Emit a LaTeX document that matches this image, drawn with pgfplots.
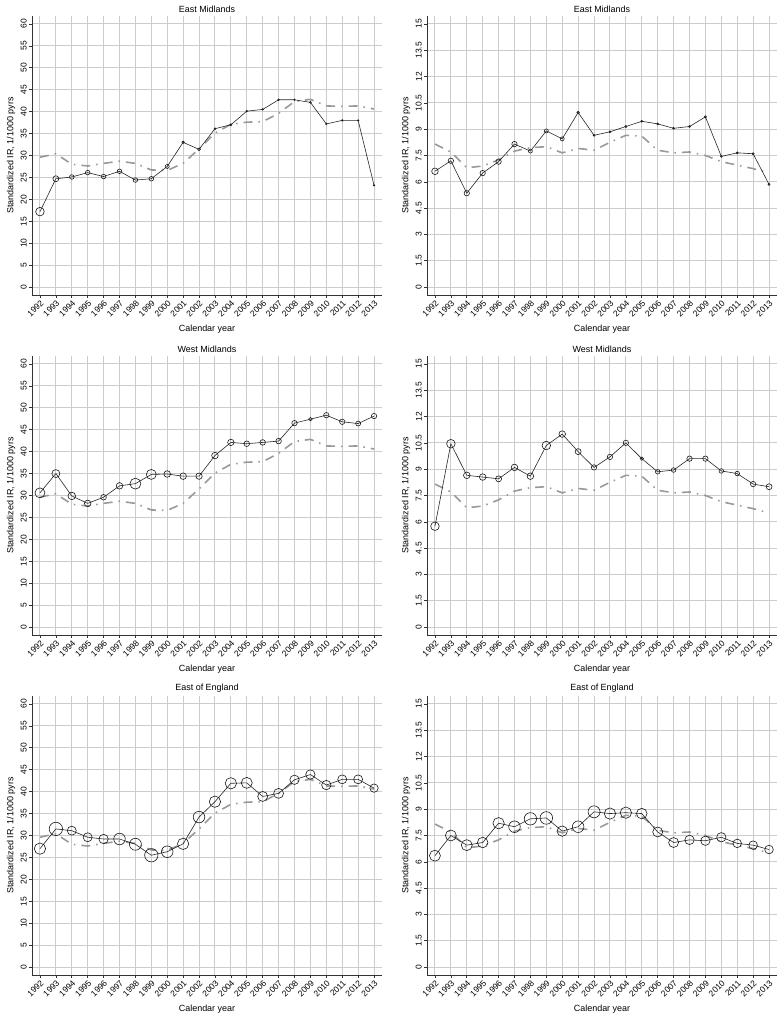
\documentclass[border=0pt]{standalone}
\usepackage{fontspec}
\setmainfont{Liberation Sans}
\usepackage{pgfplots}
\usepackage{pgfplotstable}
\pgfplotsset{compat=1.18}

\pgfplotstableread{
year val
1992 29.6
1993 30.4
1994 28.0
1995 27.6
1996 28.2
1997 28.7
1998 28.2
1999 26.7
2000 26.6
2001 28.2
2002 31.5
2003 35.1
2004 37.1
2005 37.6
2006 37.7
2007 39.6
2008 42.3
2009 42.8
2010 41.3
2011 41.2
2012 41.3
2013 40.6
}\refL

\pgfplotstableread{
year val
1992 8.15
1993 7.7
1994 6.8
1995 6.9
1996 7.25
1997 7.75
1998 7.95
1999 8.0
2000 7.65
2001 7.9
2002 7.8
2003 8.25
2004 8.65
2005 8.6
2006 7.8
2007 7.65
2008 7.7
2009 7.5
2010 7.15
2011 6.95
2012 6.75
2013 6.5
}\refR

\pgfplotstableread{
year val r
1992 17.2 4.3
1993 24.7 3.0
1994 25.1 2.3
1995 26.1 2.3
1996 25.2 2.3
1997 26.4 2.3
1998 24.4 2.3
1999 24.7 2.3
2000 27.5 2.0
2001 33.0 1.3
2002 31.4 1.4
2003 36.1 1.0
2004 37.0 1.0
2005 40.1 0.8
2006 40.5 0.8
2007 42.7 0.8
2008 42.7 0.8
2009 42.1 1.0
2010 37.2 0.8
2011 38.0 0.8
2012 38.0 0.8
2013 23.2 0.8
}\EMl

\pgfplotstableread{
year val r
1992 6.6 3.3
1993 7.2 2.7
1994 5.35 2.7
1995 6.5 2.7
1996 7.15 2.7
1997 8.15 2.7
1998 7.75 2.0
1999 8.9 2.0
2000 8.45 2.0
2001 9.95 1.3
2002 8.65 1.0
2003 8.85 1.0
2004 9.15 1.0
2005 9.45 1.0
2006 9.3 1.0
2007 9.05 1.0
2008 9.15 1.0
2009 9.7 1.2
2010 7.45 1.0
2011 7.65 1.0
2012 7.6 1.0
2013 5.85 1.0
}\EMr

\pgfplotstableread{
year val r
1992 30.6 5.0
1993 35.0 4.0
1994 29.9 3.8
1995 28.2 3.3
1996 29.6 2.8
1997 32.2 3.3
1998 32.7 5.5
1999 34.8 5.0
2000 34.9 3.3
2001 34.4 3.3
2002 34.4 3.2
2003 39.1 3.3
2004 42.1 3.2
2005 41.8 2.8
2006 42.1 2.8
2007 42.4 2.8
2008 46.5 2.7
2009 47.4 1.8
2010 48.3 2.7
2011 46.8 2.7
2012 46.4 2.5
2013 48.1 2.7
}\WMl

\pgfplotstableread{
year val r
1992 5.75 4.3
1993 10.45 4.3
1994 8.65 3.3
1995 8.55 3.3
1996 8.45 3.0
1997 9.1 3.3
1998 8.6 3.3
1999 10.35 4.3
2000 11.0 3.3
2001 10.0 3.0
2002 9.1 2.7
2003 9.7 2.7
2004 10.5 2.7
2005 9.6 1.7
2006 8.85 2.3
2007 8.95 2.3
2008 9.6 2.7
2009 9.6 2.7
2010 8.9 2.3
2011 8.75 2.3
2012 8.15 2.7
2013 8.0 3.0
}\WMr

\pgfplotstableread{
year val r
1992 27.0 5.7
1993 31.5 6.7
1994 31.1 4.5
1995 29.6 4.5
1996 29.2 4.7
1997 29.2 5.8
1998 28.0 6.0
1999 25.5 6.7
2000 26.3 5.8
2001 28.1 5.7
2002 34.2 5.8
2003 37.7 5.7
2004 41.9 5.7
2005 42.0 5.5
2006 38.9 5.0
2007 39.6 5.0
2008 42.7 4.7
2009 43.9 4.7
2010 41.5 4.7
2011 42.8 4.5
2012 42.8 4.5
2013 40.8 4.2
}\EEl

\pgfplotstableread{
year val r
1992 6.35 5.5
1993 7.5 5.5
1994 6.95 5.5
1995 7.1 5.3
1996 8.2 5.7
1997 8.0 5.8
1998 8.45 6.2
1999 8.5 6.3
2000 7.75 5.2
2001 8.0 5.8
2002 8.85 6.0
2003 8.75 5.7
2004 8.8 5.7
2005 8.75 5.3
2006 7.7 5.0
2007 7.1 5.0
2008 7.25 4.7
2009 7.2 4.7
2010 7.4 4.7
2011 7.05 4.3
2012 6.95 4.3
2013 6.7 4.3
}\EEr

\pgfplotsset{
  panel/.style={
    scale only axis, width=350bp, height=279bp,
    xmin=1991.5, xmax=2013.5,
    axis x line*=bottom, axis y line*=left,
    xtick={1992,1993,...,2013},
    grid=major,
    major grid style={line width=1bp, color=black!20},
    tick style={color=black!80, line width=0.6bp},
    tick align=outside, major tick length=3bp,
    axis line style={black!80, line width=0.6bp, -},
    /pgf/number format/assume math mode=true,
    /pgf/number format/1000 sep={},
    xticklabel style={rotate=45, anchor=north east, font=\fontsize{8.5}{9}\selectfont, inner sep=1bp},
    yticklabel style={rotate=90, anchor=south, font=\fontsize{8.5}{9}\selectfont, inner sep=2bp},
    title style={font=\fontsize{9}{10}\selectfont, yshift=-6bp},
    label style={font=\fontsize{9}{10}\selectfont},
    xlabel={Calendar year},
    ylabel={Standardized IR, 1/1000 pyrs},
    xlabel style={yshift=-3bp},
    ylabel style={yshift=0bp},
  },
  lpanel/.style={panel, ymin=-1.8, ymax=61.8, ytick={0,5,...,60}},
  rpanel/.style={panel, ymin=-0.45, ymax=15.45, ytick={0,1.5,3,4.5,6,7.5,9,10.5,12,13.5,15}},
  refline/.style={color=black!40, line width=1.6bp, dash pattern=on 9bp off 6bp on 1.5bp off 6bp, no marks},
  mainline/.style={color=black!85, line width=0.6bp, no marks},
  circ/.style={only marks, mark=o, scatter, point meta=0,
    scatter/use mapped color={draw=black!90, fill=none},
    mark options={line width=0.6bp},
    visualization depends on={\thisrow{r} \as \rr},
    scatter/@pre marker code/.append style={/tikz/mark size=\rr}},
}

\begin{document}
\begin{tikzpicture}
\path[use as bounding box] (0,0) rectangle (782bp,1020bp);

% Row 1
\begin{axis}[lpanel, at={(32bp,725bp)}, anchor=south west, title={East Midlands}]
\addplot[refline] table[x=year,y=val]{\refL};
\addplot[mainline] table[x=year,y=val]{\EMl};
\addplot[circ] table[x=year,y=val]{\EMl};
\end{axis}
\begin{axis}[rpanel, at={(427bp,725bp)}, anchor=south west, title={East Midlands}]
\addplot[refline] table[x=year,y=val]{\refR};
\addplot[mainline] table[x=year,y=val]{\EMr};
\addplot[circ] table[x=year,y=val]{\EMr};
\end{axis}

% Row 2
\begin{axis}[lpanel, at={(32bp,385bp)}, anchor=south west, title={West Midlands}]
\addplot[refline] table[x=year,y=val]{\refL};
\addplot[mainline] table[x=year,y=val]{\WMl};
\addplot[circ] table[x=year,y=val]{\WMl};
\end{axis}
\begin{axis}[rpanel, at={(427bp,385bp)}, anchor=south west, title={West Midlands}]
\addplot[refline] table[x=year,y=val]{\refR};
\addplot[mainline] table[x=year,y=val]{\WMr};
\addplot[circ] table[x=year,y=val]{\WMr};
\end{axis}

% Row 3
\begin{axis}[lpanel, at={(32bp,45bp)}, anchor=south west, title={East of England}]
\addplot[refline] table[x=year,y=val]{\refL};
\addplot[mainline] table[x=year,y=val]{\EEl};
\addplot[circ] table[x=year,y=val]{\EEl};
\end{axis}
\begin{axis}[rpanel, at={(427bp,45bp)}, anchor=south west, title={East of England}]
\addplot[refline] table[x=year,y=val]{\refR};
\addplot[mainline] table[x=year,y=val]{\EEr};
\addplot[circ] table[x=year,y=val]{\EEr};
\end{axis}
\end{tikzpicture}
\end{document}
